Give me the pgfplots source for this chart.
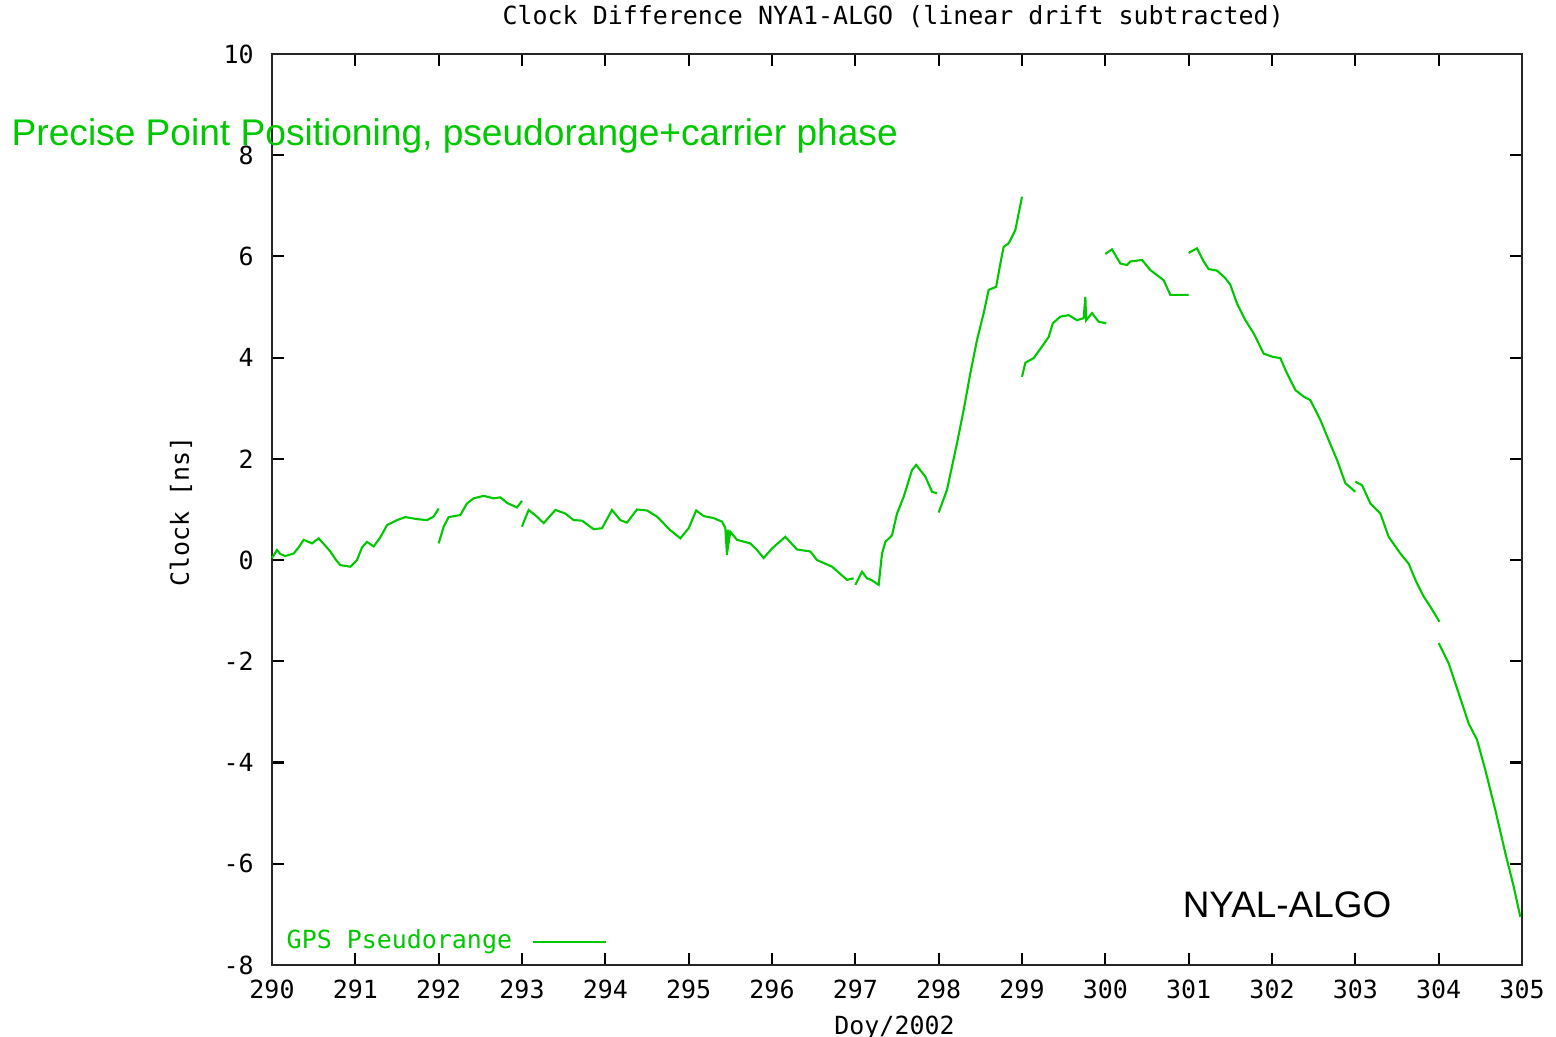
\documentclass[border=0pt]{standalone}
\usepackage{fontspec}
\setmainfont{Liberation Sans}
\newfontfamily\mono{DejaVu Sans Mono}
\usepackage{pgfplots}
\pgfplotsset{compat=1.18}
\definecolor{gpgreen}{RGB}{0,200,0}
\pgfplotsset{gpleg/.style={legend image code/.code={\path (0cm,0cm); \draw[##1] (0.13cm,0cm) -- (0.86cm,0cm);}}}

\begin{document}
\begin{tikzpicture}
\begin{axis}[
  width=12.5cm, height=9.11cm, scale only axis,
  xmin=290, xmax=305, ymin=-8, ymax=10,
  xtick={290,...,305}, ytick={-8,-6,...,10},
  major tick length=0.12cm,
  tick style={black, line width=0.6pt},
  axis line style={black!85, line width=0.8pt},
  every tick label/.append style={font=\fontsize{7.1}{8}\mono},
  /pgf/number format/assume math mode=true,
  /pgf/number format/1000 sep={},
  xticklabel style={yshift=-0.03cm},
  yticklabel style={xshift=-0.06cm},
  xlabel={Doy/2002},
  xlabel style={font=\fontsize{7.1}{8}\mono, at={(axis description cs:0.498,-0.0692)}, anchor=center},
  ylabel={Clock [ns]},
  ylabel style={font=\fontsize{7.1}{8}\mono, at={(axis description cs:-0.0728,0.498)}, anchor=center},
  legend style={at={(axis description cs:0.0056,0.0252)}, anchor=west, draw=none, fill=none,
    inner sep=0pt, font=\fontsize{7.1}{8}\mono, text=gpgreen, legend plot pos=right},
  unbounded coords=jump,
  clip=false,
]
\addplot[gpgreen, line width=0.6pt, gpleg] coordinates {
(290.0,0.04)(290.06,0.2)(290.1,0.12)(290.16,0.08)(290.26,0.13)(290.32,0.25)(290.38,0.40)(290.48,0.33)(290.56,0.43)(290.62,0.32)(290.70,0.17)(290.76,0.02)(290.82,-0.10)(290.94,-0.13)(291.02,0.0)(291.08,0.25)(291.14,0.36)(291.22,0.27)(291.3,0.45)(291.38,0.69)(291.5,0.79)(291.6,0.85)(291.74,0.81)(291.86,0.79)(291.94,0.86)(292.0,1.02)
(292.0,nan)
(292.0,0.33)(292.06,0.66)(292.12,0.85)(292.26,0.89)(292.34,1.12)(292.42,1.22)(292.54,1.27)(292.66,1.22)(292.74,1.24)(292.82,1.13)(292.94,1.04)(293.0,1.17)
(293.0,nan)
(293.0,0.66)(293.02,0.75)(293.08,0.99)(293.18,0.86)(293.26,0.73)(293.40,0.99)(293.52,0.92)(293.62,0.79)(293.72,0.78)(293.86,0.61)(293.96,0.63)(294.08,0.99)(294.18,0.79)(294.26,0.74)(294.38,1.0)(294.50,0.98)(294.62,0.86)(294.78,0.59)(294.90,0.43)(295.0,0.63)(295.09,0.98)(295.18,0.87)(295.30,0.83)(295.40,0.76)(295.44,0.63)(295.46,0.10)(295.47,0.60)(295.48,0.35)(295.50,0.56)(295.58,0.40)(295.74,0.33)(295.82,0.20)(295.90,0.04)(296.0,0.23)(296.16,0.46)(296.30,0.21)(296.46,0.17)(296.54,0.0)(296.72,-0.13)(296.90,-0.39)(296.98,-0.36)
(297.0,nan)
(297.0,-0.49)(297.08,-0.23)(297.14,-0.36)(297.2,-0.40)(297.28,-0.49)(297.32,0.13)(297.36,0.36)(297.44,0.49)(297.5,0.92)(297.58,1.25)(297.68,1.78)(297.73,1.88)(297.84,1.65)(297.92,1.35)(297.98,1.32)
(298.0,nan)
(298.0,0.94)(298.1,1.39)(298.22,2.31)(298.3,2.97)(298.38,3.69)(298.46,4.35)(298.54,4.88)(298.6,5.34)(298.69,5.40)(298.74,5.86)(298.78,6.19)(298.84,6.26)(298.92,6.52)(298.96,6.85)(299.0,7.18)
(299.0,nan)
(299.0,3.62)(299.04,3.90)(299.14,3.99)(299.24,4.22)(299.32,4.41)(299.37,4.68)(299.46,4.81)(299.56,4.84)(299.66,4.74)(299.74,4.78)(299.76,5.20)(299.77,4.74)(299.84,4.88)(299.92,4.71)(300.01,4.68)
(300.0,nan)
(300.0,6.05)(300.08,6.14)(300.18,5.86)(300.26,5.83)(300.3,5.90)(300.44,5.93)(300.54,5.73)(300.62,5.63)(300.70,5.53)(300.78,5.24)(300.88,5.24)(301.0,5.24)
(301.0,nan)
(301.0,6.07)(301.10,6.16)(301.18,5.90)(301.24,5.75)(301.34,5.72)(301.44,5.57)(301.50,5.44)(301.58,5.07)(301.68,4.74)(301.78,4.48)(301.90,4.08)(302.0,4.02)(302.10,3.99)(302.18,3.69)(302.28,3.36)(302.38,3.23)(302.46,3.16)(302.58,2.77)(302.68,2.37)(302.78,1.98)(302.88,1.52)(303.0,1.35)
(303.0,nan)
(303.0,1.55)(303.08,1.48)(303.18,1.12)(303.30,0.92)(303.40,0.46)(303.54,0.13)(303.64,-0.07)(303.72,-0.39)(303.82,-0.72)(303.90,-0.92)(304.01,-1.22)
(304.0,nan)
(304.0,-1.64)(304.12,-2.04)(304.24,-2.63)(304.36,-3.23)(304.46,-3.55)(304.56,-4.15)(304.68,-4.94)(304.80,-5.79)(304.90,-6.45)(304.98,-7.05)
};
\addlegendentry{GPS Pseudorange}
\node[anchor=center, font=\fontsize{7.1}{8}\mono]
  at (axis description cs:0.497,1.0406) {Clock Difference NYA1-ALGO (linear drift subtracted)};
\node[anchor=west, inner sep=0pt, text=gpgreen, font=\fontsize{10.56}{12}\selectfont]
  at (axis description cs:-0.2088,0.9100) {Precise Point Positioning, pseudorange+carrier phase};
\node[anchor=center, inner sep=0pt, font=\fontsize{10.5}{12}\selectfont]
  at (axis cs:302.18,-6.81) {NYAL-ALGO};
\end{axis}
\pgfresetboundingbox
\path[use as bounding box] ([shift={(-2.72cm,-0.72cm)}]current axis.south west) rectangle ([shift={(0.34cm,0.54cm)}]current axis.north east);
\end{tikzpicture}
\end{document}
